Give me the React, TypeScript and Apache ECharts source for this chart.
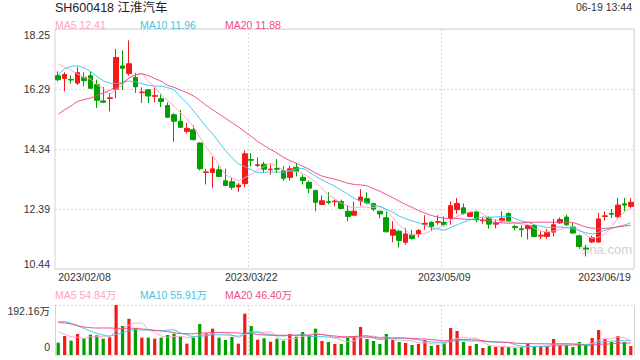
import React, { useEffect, useRef } from 'react';
import * as echarts from 'echarts';

// ---- data ----
const dates = [
  '02/08', '02/09', '02/10', '02/13', '02/14', '02/15', '02/16', '02/17', '02/20', '02/21',
  '02/22', '02/23', '02/24', '02/27', '02/28', '03/01', '03/02', '03/03', '03/06', '03/07',
  '03/08', '03/09', '03/10', '03/13', '03/14', '03/15', '03/16', '03/17', '03/20', '03/21',
  '03/22', '03/23', '03/24', '03/27', '03/28', '03/29', '03/30', '03/31', '04/03', '04/04',
  '04/06', '04/07', '04/10', '04/11', '04/12', '04/13', '04/14', '04/17', '04/18', '04/19',
  '04/20', '04/21', '04/24', '04/25', '04/26', '04/27', '04/28', '05/04', '05/05', '05/08',
  '05/09', '05/10', '05/11', '05/12', '05/15', '05/16', '05/17', '05/18', '05/19', '05/22',
  '05/23', '05/24', '05/25', '05/26', '05/29', '05/30', '05/31', '06/01', '06/02', '06/05',
  '06/06', '06/07', '06/08', '06/09', '06/12', '06/13', '06/14', '06/15', '06/16', '06/19',
];

const opens = [
  16.73, 16.64, 16.61, 16.49, 16.68, 16.73, 16.44, 15.91, 15.99, 16.29,
  17.05, 16.80, 16.67, 16.18, 16.27, 16.06, 15.98, 15.76, 15.46, 15.25,
  14.92, 14.97, 14.54, 13.58, 13.58, 13.67, 13.31, 13.28, 13.11, 13.22,
  14.00, 13.81, 13.85, 13.67, 13.71, 13.64, 13.42, 13.75, 13.42, 13.26,
  12.99, 12.54, 12.63, 12.63, 12.64, 12.32, 12.19, 12.66, 12.73, 12.57,
  12.32, 12.11, 11.54, 11.67, 11.31, 11.55, 11.58, 11.90, 11.96, 11.96,
  11.96, 12.10, 12.37, 12.43, 12.15, 12.30, 12.01, 12.10, 11.90, 12.01,
  12.25, 11.82, 11.75, 11.75, 11.85, 11.51, 11.50, 11.64, 11.94, 12.13,
  11.81, 11.52, 11.12, 11.32, 11.32, 12.15, 12.25, 12.14, 12.56, 12.48,
];
const closes = [
  16.60, 16.77, 16.59, 16.83, 16.57, 16.32, 15.93, 15.87, 16.01, 17.32,
  16.97, 17.12, 16.37, 16.20, 16.07, 16.08, 15.89, 15.38, 15.25, 15.05,
  15.02, 14.65, 13.70, 13.60, 13.70, 13.45, 13.16, 13.10, 13.17, 14.19,
  13.98, 13.83, 13.69, 13.69, 13.69, 13.39, 13.70, 13.62, 13.32, 13.07,
  12.61, 12.66, 12.61, 12.65, 12.41, 12.15, 12.32, 12.78, 12.59, 12.39,
  12.23, 11.65, 11.72, 11.37, 11.58, 11.43, 11.69, 11.93, 11.83, 11.98,
  11.88, 12.50, 12.57, 12.24, 12.28, 12.04, 12.03, 11.90, 11.93, 12.09,
  11.99, 11.79, 11.72, 11.85, 11.50, 11.54, 11.63, 11.88, 12.05, 11.88,
  11.61, 11.17, 11.09, 11.46, 12.07, 12.17, 12.22, 12.52, 12.52, 12.61,
];
const lows = [
  16.55, 16.22, 16.47, 16.43, 16.39, 16.30, 15.68, 15.84, 15.57, 16.00,
  16.27, 16.73, 16.17, 15.84, 15.84, 15.86, 15.71, 15.35, 14.58, 15.03,
  14.85, 14.62, 13.65, 13.19, 13.07, 13.43, 13.13, 13.02, 12.95, 13.10,
  13.78, 13.75, 13.56, 13.51, 13.56, 13.31, 13.32, 13.45, 13.19, 12.91,
  12.32, 12.52, 12.55, 12.48, 12.39, 11.99, 12.18, 12.50, 12.55, 12.32,
  12.09, 11.64, 11.31, 11.14, 11.23, 11.40, 11.47, 11.72, 11.67, 11.88,
  11.83, 11.88, 12.24, 12.21, 12.13, 11.96, 11.91, 11.75, 11.76, 11.96,
  11.96, 11.70, 11.48, 11.40, 11.48, 11.42, 11.42, 11.50, 11.91, 11.84,
  11.59, 11.10, 10.85, 11.29, 11.29, 12.02, 12.10, 12.10, 12.32, 12.41,
];
const highs = [
  16.87, 16.84, 16.74, 17.01, 16.84, 16.87, 16.60, 16.36, 16.17, 17.60,
  17.55, 17.88, 16.82, 16.35, 16.29, 16.35, 16.12, 15.86, 15.51, 15.62,
  15.19, 15.11, 14.56, 13.70, 14.10, 13.80, 13.70, 13.42, 13.24, 14.29,
  14.21, 14.07, 13.93, 13.84, 14.02, 13.78, 13.80, 13.89, 13.51, 13.32,
  13.02, 12.83, 12.94, 12.70, 12.70, 12.50, 12.63, 13.04, 12.93, 12.59,
  12.33, 12.32, 11.99, 11.72, 11.77, 11.71, 11.74, 12.19, 11.99, 12.19,
  12.15, 12.64, 12.75, 12.57, 12.31, 12.34, 12.12, 12.15, 12.05, 12.32,
  12.28, 11.88, 11.86, 11.87, 11.88, 11.67, 11.74, 12.07, 12.12, 12.21,
  11.96, 11.56, 11.23, 11.52, 12.26, 12.31, 12.39, 12.75, 12.75, 12.74,
];
// volume, in 万 shares
const volumes = [
  47.4, 73.0, 55.1, 80.7, 64.1, 78.1, 75.6, 62.8, 67.9, 192.16,
  111.5, 139.6, 102.5, 66.6, 66.6, 62.8, 66.6, 76.9, 82.0, 70.5,
  43.6, 67.9, 119.1, 83.3, 101.2, 66.6, 57.6, 69.2, 43.6, 158.9,
  111.5, 58.9, 64.1, 51.2, 62.8, 55.1, 80.7, 70.5, 88.4, 76.9,
  101.2, 53.8, 50.0, 42.3, 42.3, 66.6, 73.0, 107.6, 61.5, 53.8,
  42.3, 80.7, 57.6, 50.0, 46.1, 38.4, 42.3, 57.6, 34.6, 38.4,
  46.1, 103.8, 92.2, 50.0, 34.6, 42.3, 26.9, 34.6, 30.7, 30.7,
  30.7, 26.9, 30.7, 42.3, 34.6, 34.6, 34.6, 61.5, 38.4, 38.4,
  30.7, 50.0, 38.4, 65.3, 96.1, 61.5, 50.0, 73.0, 50.0, 34.6,
];
// moving-average values before enough in-window history exists
const ma5Head = [17.11, 17.0, 16.9, 16.79];
const ma10Head = [16.76, 16.95, 17.03, 17.05, 16.98, 16.87, 16.71, 16.57, 16.49];
const ma20Head = [
  15.48, 15.62, 15.75, 15.89, 15.95, 16.0, 16.09, 16.17, 16.25, 16.38,
  16.5, 16.65, 16.75, 16.79, 16.73, 16.64, 16.55, 16.42, 16.35,
];
const vma5Head = [89.7, 79.4, 70.5, 67.9];
const vma10Head = [128.1, 128.1, 121.7, 112.7, 102.5, 92.2, 83.3, 76.9, 73.0];
const vma20Head = [
  124.3, 123.0, 119.1, 112.7, 107.6, 105.0, 103.8, 103.8, 103.8, 102.5,
  102.5, 102.5, 102.5, 99.9, 97.4, 94.8, 92.2, 89.7, 85.8,
];

const priceTicks = ['10.44', '12.39', '14.34', '16.29', '18.25'];
const volTicks = ['0', '192.16万'];
const xLabelIdx = [0, 30, 60, 89];
const splitIdx = [30, 60];
const titleText = 'SH600418 江淮汽车';
const timeText = '06-19 13:44';
const mainLegend = ['MA5 12.41', 'MA10 11.96', 'MA20 11.88'];
const volLegend = ['MA5 54.84万', 'MA10 55.91万', 'MA20 46.40万'];

// ---- styles ----
const UP = '#f51a1a';
const DOWN = '#00a000';
const C5 = '#ffa3c2';
const C10 = '#3fc6e4';
const C20 = '#f04a82';
const LEG = [C5, C10, C20];
const FONT = 'Arial, "Liberation Sans", "Noto Sans CJK SC", sans-serif';
const BORDER = '#d4d4d4';
const DOT = '#dadada';

function movingAvg(src: number[], n: number, head: number[]): number[] {
  return src.map((_, i) => {
    if (i < n - 1) return head[i];
    let s = 0;
    for (let k = i - n + 1; k <= i; k++) s += src[k];
    return +(s / n).toFixed(3);
  });
}

export default function App() {
  const ref = useRef<HTMLDivElement>(null);
  useEffect(() => {
    if (!ref.current) return;
    const chart = echarts.init(ref.current, undefined, { renderer: 'svg' });
    const ohlc = dates.map((_, i) => [opens[i], closes[i], lows[i], highs[i]]);
    const ma5 = movingAvg(closes, 5, ma5Head);
    const ma10 = movingAvg(closes, 10, ma10Head);
    const ma20 = movingAvg(closes, 20, ma20Head);
    const vma5 = movingAvg(volumes, 5, vma5Head);
    const vma10 = movingAvg(volumes, 10, vma10Head);
    const vma20 = movingAvg(volumes, 20, vma20Head);

    const pMin = 10.44;
    const pMax = 18.25;
    const pInt = (pMax - pMin) / 4;
    const vMax = 192.16;

    const lineSeries = (name: string, data: number[], color: string, ax: number) => ({
      name,
      type: 'line',
      xAxisIndex: ax,
      yAxisIndex: ax,
      data,
      symbol: 'none',
      smooth: 0.25,
      lineStyle: { color, width: 1 },
      itemStyle: { color },
      z: 3,
    });

    const legendTexts = (arr: string[], y: number) =>
      arr.map((t, i) => ({
        type: 'text',
        x: 55 + i * 85,
        y,
        style: { text: t, fill: LEG[i], font: `10.5px ${FONT}`, align: 'left', verticalAlign: 'middle' },
      }));

    const dotted = { color: DOT, type: [2, 2] as any, width: 1 };

    chart.setOption({
      animation: false,
      backgroundColor: '#ffffff',
      grid: [
        { left: 55, right: 6, top: 29, height: 240, show: true, borderColor: BORDER, borderWidth: 1 },
        { left: 55, right: 6, top: 305, height: 50, show: false },
      ],
      xAxis: [
        {
          type: 'category',
          gridIndex: 0,
          data: dates,
          boundaryGap: true,
          axisLine: { show: false },
          axisTick: { show: false },
          axisLabel: {
            interval: (i: number) => xLabelIdx.includes(i),
            formatter: (v: string) => '2023/' + v,
            color: '#333',
            fontSize: 10.5,
            fontFamily: FONT,
            margin: 3,
            alignMinLabel: 'left',
            alignMaxLabel: 'right',
          },
          splitLine: { show: true, interval: (i: number) => splitIdx.includes(i), lineStyle: dotted },
        },
        {
          type: 'category',
          gridIndex: 1,
          data: dates,
          boundaryGap: true,
          axisLine: { show: false },
          axisTick: { show: false },
          axisLabel: { show: false },
          splitLine: { show: true, interval: (i: number) => splitIdx.includes(i), lineStyle: dotted },
        },
      ],
      yAxis: [
        {
          type: 'value',
          gridIndex: 0,
          min: pMin,
          max: pMax,
          interval: pInt,
          axisLine: { show: false },
          axisTick: { show: false },
          axisLabel: {
            color: '#333',
            fontSize: 10.5,
            fontFamily: FONT,
            margin: 5,
            formatter: (v: number) => {
              const k = Math.round((v - pMin) / pInt);
              const t = priceTicks[k];
              if (k === 0) return `{lo|${t}}`;
              if (k === priceTicks.length - 1) return `{hi|${t}}`;
              return t;
            },
            rich: {
              lo: { padding: [0, 0, 10, 0], fontSize: 10.5, color: '#333', fontFamily: FONT },
              hi: { padding: [12, 0, 0, 0], fontSize: 10.5, color: '#333', fontFamily: FONT },
            },
          },
          splitLine: { show: true, lineStyle: dotted },
        },
        {
          type: 'value',
          gridIndex: 1,
          min: 0,
          max: vMax,
          interval: vMax,
          axisLine: { show: true, lineStyle: { color: BORDER } },
          axisTick: { show: false },
          axisLabel: {
            color: '#333',
            fontSize: 10.5,
            fontFamily: FONT,
            margin: 5,
            formatter: (v: number) => {
              const k = Math.round(v / vMax);
              return k === 0 ? `{lo|${volTicks[0]}}` : `{hi|${volTicks[1]}}`;
            },
            rich: {
              lo: { padding: [0, 0, 16, 0], fontSize: 10.5, color: '#333', fontFamily: FONT },
              hi: { padding: [12, 0, 0, 0], fontSize: 10.5, color: '#333', fontFamily: FONT },
            },
          },
          splitLine: { show: true, lineStyle: dotted },
        },
        {
          type: 'value',
          gridIndex: 1,
          position: 'right',
          min: 0,
          max: vMax,
          interval: vMax,
          axisLine: { show: true, lineStyle: { color: BORDER } },
          axisTick: { show: false },
          axisLabel: { show: false },
          splitLine: { show: false },
        },
      ],
      graphic: [
        {
          type: 'text',
          x: 580,
          y: 249,
          z: -10,
          style: { text: 'sina.com', fill: '#d2d2d2', font: `13px ${FONT}`, align: 'left', verticalAlign: 'middle' },
        },
        {
          type: 'text',
          x: 55,
          y: 7.5,
          style: { text: titleText, fill: '#222', font: `12.5px ${FONT}`, align: 'left', verticalAlign: 'middle' },
        },
        {
          type: 'text',
          x: 632,
          y: 7,
          style: { text: timeText, fill: '#333', font: `10.5px ${FONT}`, align: 'right', verticalAlign: 'middle' },
        },
        ...legendTexts(mainLegend, 24.5),
        ...legendTexts(volLegend, 295),
      ],
      series: [
        {
          name: 'K',
          type: 'candlestick',
          xAxisIndex: 0,
          yAxisIndex: 0,
          data: ohlc,
          barWidth: '80%',
          itemStyle: { color: UP, color0: DOWN, borderColor: UP, borderColor0: DOWN, borderWidth: 1 },
          z: 2,
        },
        lineSeries('MA5', ma5, C5, 0),
        lineSeries('MA10', ma10, C10, 0),
        lineSeries('MA20', ma20, C20, 0),
        {
          name: 'VOL',
          type: 'bar',
          xAxisIndex: 1,
          yAxisIndex: 1,
          data: volumes,
          barWidth: '50%',
          itemStyle: {
            color: (p: any) => (closes[p.dataIndex] >= opens[p.dataIndex] ? UP : DOWN),
          },
          z: 2,
        },
        lineSeries('VMA5', vma5, C5, 1),
        lineSeries('VMA10', vma10, C10, 1),
        lineSeries('VMA20', vma20, C20, 1),
      ],
    });
    return () => chart.dispose();
  }, []);
  return (
    <div
      ref={ref}
      style={{ position: 'fixed', left: 0, top: 0, width: 640, height: 360, background: '#fff' }}
    />
  );
}
